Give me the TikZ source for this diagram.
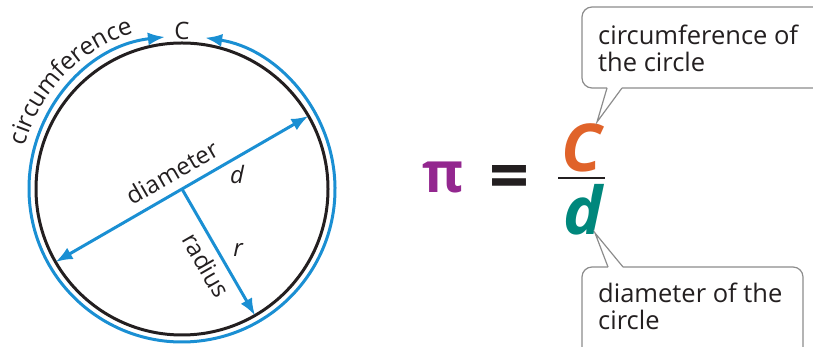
\documentclass[tikz,border=0pt]{standalone}
\usepackage{fontspec}
\setmainfont{Open Sans}
\usetikzlibrary{arrows.meta,calc,decorations.text}
\definecolor{circblue}{HTML}{1A8FD3}
\definecolor{pipurple}{HTML}{93278F}
\definecolor{corange}{HTML}{E0632A}
\definecolor{dteal}{HTML}{00877C}
\definecolor{inkdark}{HTML}{231F20}
\definecolor{boxgray}{HTML}{8C8C8C}

\begin{document}
\begin{tikzpicture}[x=1pt,y=1pt,>={Latex[length=17pt,width=13pt]},
    lbl/.style={font=\fontsize{24}{26.5}\selectfont,text=inkdark,inner sep=0pt},
    note/.style={font=\fontsize{25.5}{27}\selectfont,text=inkdark,inner sep=0pt,anchor=base west,align=left},
    blueline/.style={circblue,line width=3pt},
    callout/.style={boxgray,line width=1.2pt}]
    \clip (0,0) rectangle (813,347);
    \coordinate (O) at (182,158);
    % circle and circumference
    \draw[inkdark,line width=3pt] (O) circle (146);
    \draw[blueline,<->] ($(O)+(96.4:153)$) arc[start angle=96.4,end angle=441.3,radius=153];
    \path[decorate,decoration={text along path,text align=center,
      text={|\fontsize{24.5}{24.5}\selectfont\color{inkdark}|circumference}}]
      ($(O)+(177:163)$) arc[start angle=177,end angle=95,radius=163];
    \node[lbl] (Ctop) at (182,316) {C};
    % diameter
    \coordinate (dA) at ($(O)+(210:146)$);
    \coordinate (dB) at ($(O)+(30:146)$);
    \draw[blueline,<->] (dA) -- (dB);
    \node[lbl,rotate=30] (diam) at ($(O)+(120:19)$) {diameter};
    \node[lbl,font=\fontsize{24}{24}\selectfont\itshape] (dlbl) at ($(O)+(30:55)+(-60:15)$) {d};
    % radius
    \coordinate (rEnd) at ($(O)+(-60:146)$);
    \draw[blueline,->] (O) -- (rEnd);
    \node[lbl,rotate=-60] (rad) at ($(O)+(-60:78)+(-150:17)$) {radius};
    \node[lbl,font=\fontsize{24}{24}\selectfont\itshape] (rlbl) at ($(O)+(-60:81)+(30:18)$) {r};
    % pi = C/d
    \node[text=pipurple,font=\fontsize{56}{56}\selectfont\bfseries,inner sep=0pt] (pi) at (443,170) {π};
    \node[text=inkdark,font=\fontsize{70}{70}\selectfont\bfseries,inner sep=0pt] (eq) at (509,164) {=};
    \coordinate (fracL) at (558,169);
    \coordinate (fracR) at (605,169);
    \draw[inkdark,line width=2pt] (fracL) -- (fracR);
    \node[text=corange,font=\fontsize{66}{66}\selectfont\bfseries\itshape,inner sep=0pt] (num) at (582,199) {C};
    \node[text=dteal,font=\fontsize{66}{66}\selectfont\bfseries\itshape,inner sep=0pt] (den) at (583,137) {d};
    % callouts
    \coordinate (tipT) at (597,225);
    \draw[callout,rounded corners=10pt] (607,259) -- (582,259) -- (582,340) -- (840,340) -- (840,259) -- (622,259);
    \draw[callout] (607,259) -- (tipT) -- (622,259);
    \node[note] (topnote) at (598,275) {circumference of\\the circle};
    \coordinate (tipB) at (595,114);
    \draw[callout,rounded corners=10pt] (608,80) -- (582,80) -- (582,-20) -- (803,-20) -- (803,80) -- (623,80);
    \draw[callout] (608,80) -- (tipB) -- (623,80);
    \node[note] (botnote) at (598,17) {diameter of the\\circle};
\end{tikzpicture}
\end{document}
